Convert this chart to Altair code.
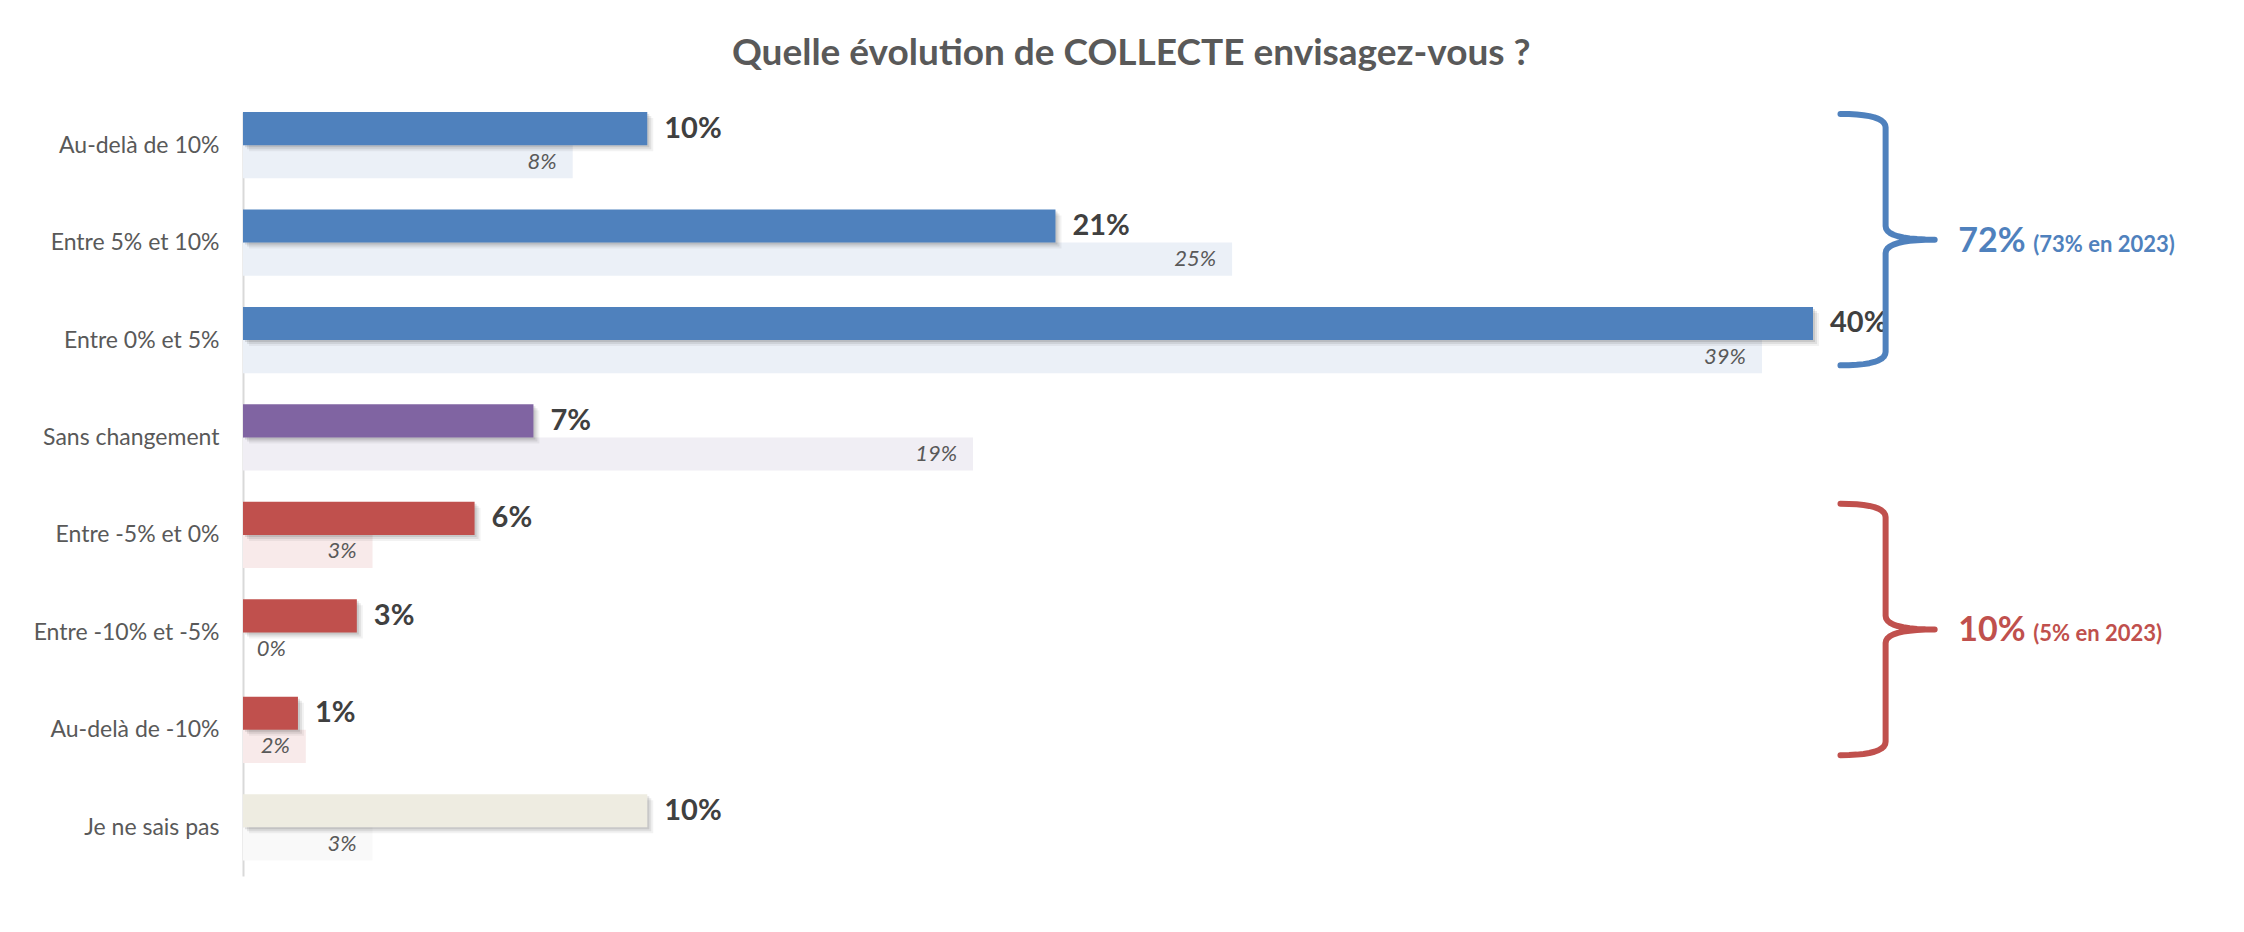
import altair as alt
import pandas as pd

# ---- data ----
categories = ["Au-delà de 10%", "Entre 5% et 10%", "Entre 0% et 5%", "Sans changement",
              "Entre -5% et 0%", "Entre -10% et -5%", "Au-delà de -10%", "Je ne sais pas"]
values_2024 = [10.3, 20.7, 40.0, 7.4, 5.9, 2.9, 1.4, 10.3]
values_2023 = [8.4, 25.2, 38.7, 18.6, 3.3, 0.0, 1.6, 3.3]
groups = ["hausse", "hausse", "hausse", "stable", "baisse", "baisse", "baisse", "nsp"]

group_colors = {"hausse": "#4F81BD", "stable": "#8064A2", "baisse": "#C0504D", "nsp": "#EEECE1"}
ghost_colors = {"hausse": "#EBF0F7", "stable": "#F0EEF4", "baisse": "#F8EAEA", "nsp": "#F9F9F9"}

brace_first = [0, 4]
brace_last = [2, 6]
brace_main = ["72%", "10%"]
brace_sub = ["(73% en 2023)", "(5% en 2023)"]
brace_colors = ["#4F81BD", "#C0504D"]

title_text = "Quelle évolution de COLLECTE envisagez-vous ?"

FONT = "Lato"
X_MAX = 50
PX_PER_UNIT = 39.25
W = X_MAX * PX_PER_UNIT
Y_MAX = 7.84
H = 764

df = pd.DataFrame({
    "cat": categories,
    "idx": list(range(len(categories))),
    "v": values_2024,
    "prev": values_2023,
    "grp": groups,
})
df["main_color"] = df["grp"].map(group_colors)
df["ghost_color"] = df["grp"].map(ghost_colors)
df["lbl"] = df["v"].round().astype(int).astype(str) + "%"
df["lbl_prev"] = df["prev"].round().astype(int).astype(str) + "%"

# brace geometry built from the group spans
base = 40.0
xl, xv, xt = base + 0.7, base + 1.85, base + 3.1


def quad(p0, c, p2, n=10):
    pts = []
    for k in range(n + 1):
        t = k / n
        x = (1 - t) ** 2 * p0[0] + 2 * (1 - t) * t * c[0] + t ** 2 * p2[0]
        y = (1 - t) ** 2 * p0[1] + 2 * (1 - t) * t * c[1] + t ** 2 * p2[1]
        pts.append((x, y))
    return pts


brace_rows = []
label_rows = []
for g, (f, l) in enumerate(zip(brace_first, brace_last)):
    top = f + 0.02
    bot = l + 0.6
    mid = (top + bot) / 2
    r = 0.14
    pts = []
    pts += quad((xl, top), (xv, top), (xv, top + r))
    pts += quad((xv, mid - r), (xv, mid), (xt, mid))
    pts += quad((xt, mid), (xv, mid), (xv, mid + r))
    pts += quad((xv, bot - r), (xv, bot), (xl, bot))
    for s, (x, y) in enumerate(pts):
        brace_rows.append({"g": g, "s": s, "bx": x, "by": y, "col": brace_colors[g]})
    label_rows.append({"g": g, "lx": xt + 0.6, "ly": mid, "main": brace_main[g],
                       "sub": brace_sub[g], "col": brace_colors[g]})

brace_df = pd.DataFrame(brace_rows)
blabel_df = pd.DataFrame(label_rows)

x_scale = alt.Scale(domain=[0, X_MAX], nice=False, zero=True)
y_scale = alt.Scale(domain=[0, Y_MAX], nice=False, zero=False, reverse=True)

label_array = "[" + ",".join("'" + c + "'" for c in categories) + "]"
y_axis = alt.Axis(values=[i + 0.34 for i in range(len(categories))],
                  labelExpr=label_array + "[round(datum.value - 0.34)]",
                  ticks=False, grid=False, domainColor="#D9D9D9", domainWidth=2,
                  labelFont=FONT, labelFontSize=23, labelColor="#595959",
                  labelPadding=24, labelBaseline="middle", labelLimit=400)


def Y(field):
    return alt.Y(field, scale=y_scale, axis=y_axis, title=None)


def X(field):
    return alt.X(field, scale=x_scale, axis=None, title=None)


base_chart = alt.Chart(df).transform_calculate(
    y_main=alt.datum.idx,
    y_mid=alt.datum.idx + 0.34,
    y_ghost=alt.datum.idx + 0.68,
    y_mtxt=alt.datum.idx + 0.17,
    y_gtxt=alt.datum.idx + 0.51,
    x_gtxt="max(datum.prev, 1.5)",
)

ghost = base_chart.mark_bar().encode(
    x=X("prev:Q"),
    x2=alt.datum(0),
    y=Y("y_mid:Q"),
    y2="y_ghost:Q",
    color=alt.Color("ghost_color:N", scale=None),
)

shadows = []
for off, op in [(2, 0.10), (4, 0.08), (6, 0.05)]:
    shadows.append(base_chart.mark_bar(color="#000000", opacity=op, xOffset=off, x2Offset=off,
                                       yOffset=off, y2Offset=off).encode(
        x=X("v:Q"),
        x2=alt.datum(0),
        y=Y("y_main:Q"),
        y2="y_mid:Q",
    ))

main = base_chart.mark_bar().encode(
    x=X("v:Q"),
    x2=alt.datum(0),
    y=Y("y_main:Q"),
    y2="y_mid:Q",
    color=alt.Color("main_color:N", scale=None),
)

main_text = base_chart.mark_text(align="left", baseline="middle", dx=17, font=FONT,
                                 fontSize=29, fontWeight="bold", color="#404040").encode(
    x=X("v:Q"),
    y=Y("y_mtxt:Q"),
    text="lbl:N",
)

ghost_text = base_chart.mark_text(align="right", baseline="middle", dx=-16, font=FONT,
                                  fontSize=22, fontStyle="italic", color="#595959").encode(
    x=X("x_gtxt:Q"),
    y=Y("y_gtxt:Q"),
    text="lbl_prev:N",
)

brace = alt.Chart(brace_df).mark_line(strokeWidth=6, strokeCap="round", strokeJoin="round").encode(
    x=X("bx:Q"),
    y=Y("by:Q"),
    detail="g:N",
    order="s:Q",
    color=alt.Color("col:N", scale=None),
)

brace_big = alt.Chart(blabel_df).mark_text(align="left", baseline="alphabetic", dy=12, font=FONT,
                                           fontSize=34, fontWeight="bold").encode(
    x=X("lx:Q"),
    y=Y("ly:Q"),
    text="main:N",
    color=alt.Color("col:N", scale=None),
)

brace_small = alt.Chart(blabel_df).mark_text(align="left", baseline="alphabetic", dy=12, dx=75,
                                             font=FONT, fontSize=22, fontWeight="bold").encode(
    x=X("lx:Q"),
    y=Y("ly:Q"),
    text="sub:N",
    color=alt.Color("col:N", scale=None),
)

chart = alt.layer(ghost, *shadows, main, main_text, ghost_text, brace, brace_big, brace_small).properties(
    width=W,
    height=H,
    title=alt.TitleParams(title_text, font=FONT, fontSize=37, fontWeight="bold", color="#595959",
                          anchor="middle", dx=-93, offset=38),
    autosize=alt.AutoSizeParams(type="none"),
    padding={"left": 235, "top": 104, "right": 30, "bottom": 40},
    background="white",
).configure_view(strokeWidth=0, stroke="transparent")

chart.save("out.html", embed_options={"renderer": "svg", "actions": False})
